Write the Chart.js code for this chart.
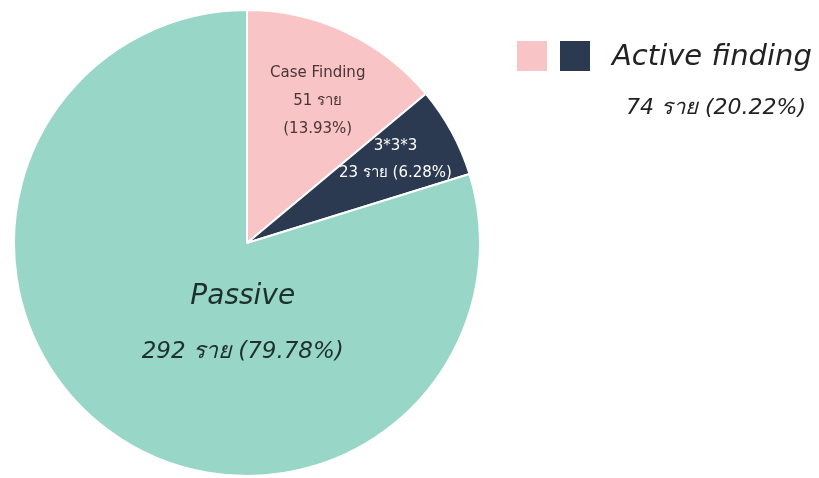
<!DOCTYPE html>
<html>
<head>
<meta charset="utf-8">
<script src="https://cdn.jsdelivr.net/npm/chart.js@4.4.1/dist/chart.umd.min.js"></script>
<style>
  body { margin: 0; background: #fff; }
  #wrap { width: 819px; height: 478px; position: relative; }
</style>
</head>
<body>
<div id="wrap"><canvas id="myChart"></canvas></div>
<script>
// slices, clockwise from 12 o'clock
const labels = ['Case Finding', '3*3*3', 'Passive'];
const counts = [51, 23, 292];
const percents = ['13.93%', '6.28%', '79.78%'];
const colors = ['#f8c4c6', '#2c3a51', '#98d6c8'];

// legend group (first two slices)
const groupName = 'Active finding';
const groupCount = 74;
const groupPercent = '20.22%';

const unit = 'ราย';
const face = '"DejaVu Sans", sans-serif';

// where each slice label sits: angle in degrees (0 = 3 o'clock, clockwise), fraction of radius
const spots = [
  { ang: -63.5, r: 0.68, lines: i => [labels[i], counts[i] + ' ' + unit, '(' + percents[i] + ')'], color: '#4a3434', font: '15px ' + face, gap: 28 },
  { ang: -29.2, r: 0.73, lines: i => [labels[i], counts[i] + ' ' + unit + ' (' + percents[i] + ')'], color: '#ffffff', font: '15px ' + face, gap: 27 },
  { ang: 93, r: 0.35, lines: i => [labels[i], counts[i] + ' ' + unit + ' (' + percents[i] + ')'], color: '#1d302c', fonts: ['oblique 28px ' + face, 'oblique 23px ' + face], gap: 55 }
];

const sliceLabels = {
  id: 'sliceLabels',
  afterDatasetsDraw(chart) {
    const ctx = chart.ctx;
    const arcs = chart.getDatasetMeta(0).data;
    ctx.save();
    ctx.textAlign = 'center';
    ctx.textBaseline = 'middle';
    arcs.forEach((arc, i) => {
      const s = spots[i];
      const a = s.ang * Math.PI / 180;
      const cx = arc.x + Math.cos(a) * arc.outerRadius * s.r;
      const cy = arc.y + Math.sin(a) * arc.outerRadius * s.r;
      const lines = s.lines(i);
      const top = cy - (lines.length - 1) * s.gap / 2;
      ctx.fillStyle = s.color;
      lines.forEach((t, k) => {
        ctx.font = s.fonts ? s.fonts[k] : s.font;
        ctx.fillText(t, cx, top + k * s.gap);
      });
    });
    ctx.restore();
  }
};

const groupLegend = {
  id: 'groupLegend',
  afterDraw(chart) {
    const ctx = chart.ctx;
    ctx.save();
    ctx.fillStyle = colors[0];
    ctx.fillRect(517, 41, 30, 30);
    ctx.fillStyle = colors[1];
    ctx.fillRect(560, 41, 30, 30);
    ctx.fillStyle = '#222222';
    ctx.textBaseline = 'middle';
    ctx.textAlign = 'left';
    ctx.font = 'oblique 29px ' + face;
    ctx.fillText(groupName, 612, 57);
    ctx.textAlign = 'right';
    ctx.font = 'oblique 22px ' + face;
    ctx.fillText(groupCount + ' ' + unit + ' (' + groupPercent + ')', 806, 108);
    ctx.restore();
  }
};

const ctx = document.getElementById('myChart').getContext('2d');
const myChart = new Chart(ctx, {
  type: 'pie',
  data: {
    labels: labels,
    datasets: [{
      data: counts,
      backgroundColor: colors,
      borderColor: '#ffffff',
      borderWidth: 2
    }]
  },
  options: {
    responsive: true,
    maintainAspectRatio: false,
    animation: false,
    layout: { padding: { left: 13, top: 9, right: 338, bottom: 1 } },
    plugins: {
      legend: { display: false },
      tooltip: { enabled: false }
    }
  },
  plugins: [sliceLabels, groupLegend]
});
</script>
</body>
</html>
